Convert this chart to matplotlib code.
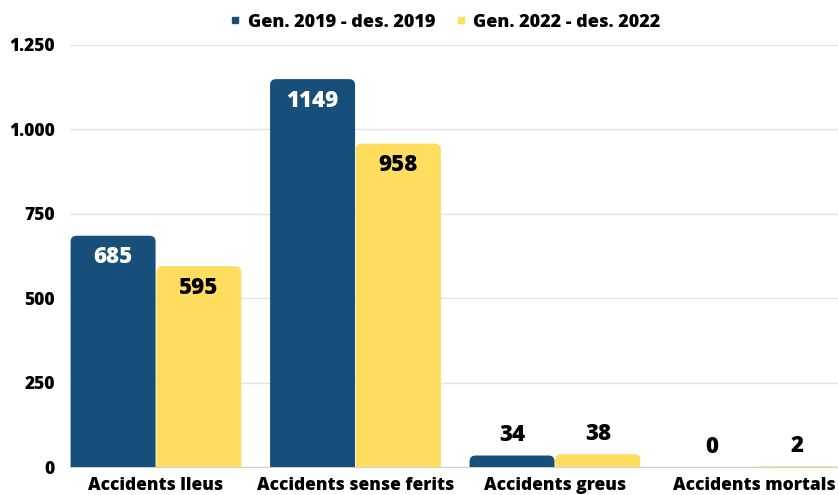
import matplotlib
matplotlib.use("Agg")
import matplotlib.pyplot as plt
import numpy as np
from matplotlib.patches import FancyBboxPatch
from matplotlib.ticker import FuncFormatter

categories = ["Accidents lleus", "Accidents sense ferits", "Accidents greus", "Accidents mortals"]
series_names = ["Gen. 2019 - des. 2019", "Gen. 2022 - des. 2022"]
values_2019 = [685, 1149, 34, 0]
values_2022 = [595, 958, 38, 2]
yticks = [0, 250, 500, 750, 1000, 1250]

blue = "#184f7a"
yellow = "#fedd5f"
W = 800  # extra bold

plt.rcParams["font.family"] = ["Open Sans", "DejaVu Sans"]
plt.rcParams["font.weight"] = W

fig = plt.figure(figsize=(8.38, 4.95), dpi=100)
ax = fig.add_axes([70 / 838, 28 / 495, 1 - 70 / 838, 422 / 495])

x = np.arange(len(categories))
w = 0.43
ax.set_xlim(-0.431, 3.419)
ax.set_ylim(0, 1250)

# pixel -> data scale, for rounded corners
px_x = (3.419 + 0.431) / 768
px_y = 1250 / 422
rad = 6 * px_x
aspect = px_y / px_x

for vals, col, off in [(values_2019, blue, -w / 2), (values_2022, yellow, w / 2)]:
    for xi, v in zip(x, vals):
        if v <= 0:
            continue
        bottom = -8 * px_y
        patch = FancyBboxPatch((xi + off - w / 2 + 0.002, bottom), w - 0.004, v - bottom,
                               boxstyle="round,pad=0,rounding_size=%f" % rad,
                               mutation_aspect=aspect, fc=col, ec="none", zorder=3)
        ax.add_patch(patch)
    for xi, v in zip(x, vals):
        if v >= 100:
            ax.annotate(str(v), (xi + off, v), xytext=(0, -15.5), textcoords="offset points",
                        ha="center", va="center", fontsize=16, fontweight=W,
                        color="white" if col == blue else "black", zorder=4)
        else:
            ax.annotate(str(v), (xi + off, v), xytext=(0, 14.5), textcoords="offset points",
                        ha="center", va="center", fontsize=16, fontweight=W,
                        color="black", zorder=4)

ax.set_yticks(yticks)
ax.yaxis.set_major_formatter(FuncFormatter(lambda v, p: "{:,.0f}".format(v).replace(",", ".")))
ax.set_xticks(x)
ax.set_xticklabels(categories)
ax.tick_params(axis="both", length=0, labelsize=12.5)
ax.tick_params(axis="y", pad=11)
ax.tick_params(axis="x", pad=7.5)
for lab in ax.get_xticklabels() + ax.get_yticklabels():
    lab.set_fontweight(W)

ax.grid(axis="y", color="#e2e2e2", lw=1, zorder=0)
for s in ["top", "right", "left"]:
    ax.spines[s].set_visible(False)
ax.spines["bottom"].set_color("#d0d0d0")

handles = [plt.Line2D([], [], marker="s", ls="none", color=c, markersize=5) for c in (blue, yellow)]
fig.legend(handles, series_names, loc="center", bbox_to_anchor=(0.53, 0.955), ncol=2,
           frameon=False, prop={"weight": W, "size": 13}, handlelength=0.8,
           handletextpad=0.3, columnspacing=1.0)

fig.savefig("out.png", dpi=100)
